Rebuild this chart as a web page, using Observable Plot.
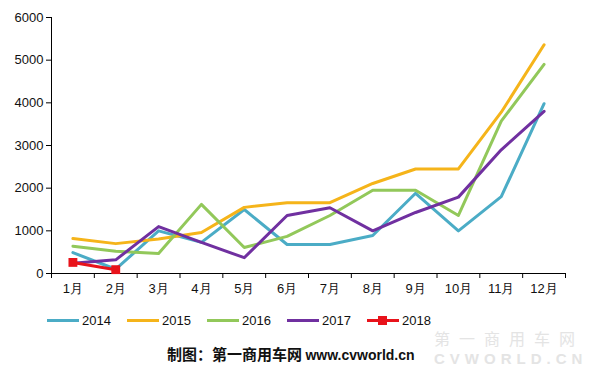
<!DOCTYPE html>
<html><head><meta charset="utf-8">
<script src="https://cdn.jsdelivr.net/npm/d3@7"></script>
<script src="https://cdn.jsdelivr.net/npm/@observablehq/plot@0.6"></script>
<style>
body{margin:0;background:#fff;font-family:"Liberation Sans",Arial,sans-serif;}
#wrap{position:relative;width:597px;height:373px;overflow:hidden;}
#chart{position:absolute;left:0;top:0;}
#legend{position:absolute;left:47px;top:311px;height:18px;display:flex;font-size:13px;color:#111;}
.item{display:flex;align-items:center;width:80px;}
.sw{width:32px;height:3px;margin-right:3px;position:relative;}
.sq{position:absolute;left:11px;top:-3px;width:9px;height:9px;background:#e8131b;}
#cap{position:absolute;left:167px;top:343px;font-weight:bold;font-size:15px;color:#111;font-family:"Noto Sans CJK SC","Liberation Sans",sans-serif;}
#cap .en{font-family:"Liberation Sans",Arial,sans-serif;font-size:14px;}
.wm{position:absolute;left:434px;color:#e4e4e4;white-space:nowrap;line-height:18px;}
#wma{top:329px;font-size:16px;letter-spacing:9px;font-family:"Noto Sans CJK SC",sans-serif;}
#wmb{top:350px;font-size:15px;font-weight:bold;letter-spacing:5px;font-family:"Liberation Sans",sans-serif;}
</style></head>
<body><div id="wrap"><div id="chart"></div>
<div id="legend"></div>
<div class="wm" id="wma">第一商用车网</div>
<div class="wm" id="wmb">CVWORLD.CN</div>
<div id="cap">制图：第一商用车网 <span class="en">www.cvworld.cn</span></div>
</div>
<script>
const months = ["1月","2月","3月","4月","5月","6月","7月","8月","9月","10月","11月","12月"];
const years = ["2014","2015","2016","2017","2018"];
const colors = ["#4bacc6","#f5b41a","#92c85a","#7030a0","#e8131b"];
const v2014 = [490,100,1000,730,1500,680,680,890,1880,1000,1800,3980];
const v2015 = [820,700,810,960,1550,1660,1660,2110,2450,2450,3780,5360];
const v2016 = [640,520,470,1620,610,870,1360,1950,1950,1360,3570,4900];
const v2017 = [240,320,1100,730,370,1360,1540,1000,1430,1790,2900,3800];
const v2018 = [260,90];
const yTicks = [0,1000,2000,3000,4000,5000,6000];

const series = [v2014,v2015,v2016,v2017,v2018];
const data = [];
series.forEach((arr,i)=>arr.forEach((v,j)=>data.push({year:years[i],m:j+1,v})));

const color = {domain:years, range:colors};
const plot = Plot.plot({
  width:597, height:300,
  marginLeft:51, marginRight:32, marginTop:17, marginBottom:27,
  style:{fontFamily:"Liberation Sans, Arial, sans-serif", fontSize:"13px", color:"#111"},
  x:{domain:[0.5,12.5]},
  y:{domain:[0,6000]},
  color,
  marks:[
    Plot.ruleX([0.5],{stroke:"#000"}),
    Plot.ruleY([0],{stroke:"#000"}),
    Plot.axisY({ticks:yTicks, tickSize:5, tickPadding:3, tickFormat:d3.format("d"), label:null, stroke:"#000", fontSize:13}),
    Plot.axisX({ticks:d3.range(0.5,13,1), tickSize:5, tickFormat:()=> "", label:null, stroke:"#000"}),
    Plot.axisX({ticks:d3.range(1,13), tickSize:0, tickPadding:10, tickFormat:d=>months[d-1], label:null, fontSize:13}),
    Plot.line(data,{x:"m",y:"v",stroke:"year",strokeWidth:3,z:"year"}),
    Plot.dot(data.filter(d=>d.year==="2018"),{x:"m",y:"v",symbol:"square",r:5,fill:"#e8131b"})
  ]
});
document.getElementById("chart").appendChild(plot);

const lg = document.getElementById("legend");
years.forEach((y,i)=>{
  const it=document.createElement("div");it.className="item";
  const sw=document.createElement("div");sw.className="sw";sw.style.background=colors[i];
  if(y==="2018"){const s=document.createElement("div");s.className="sq";sw.appendChild(s);}
  it.appendChild(sw);
  const t=document.createElement("span");t.textContent=y;it.appendChild(t);
  lg.appendChild(it);
});
</script></body></html>
